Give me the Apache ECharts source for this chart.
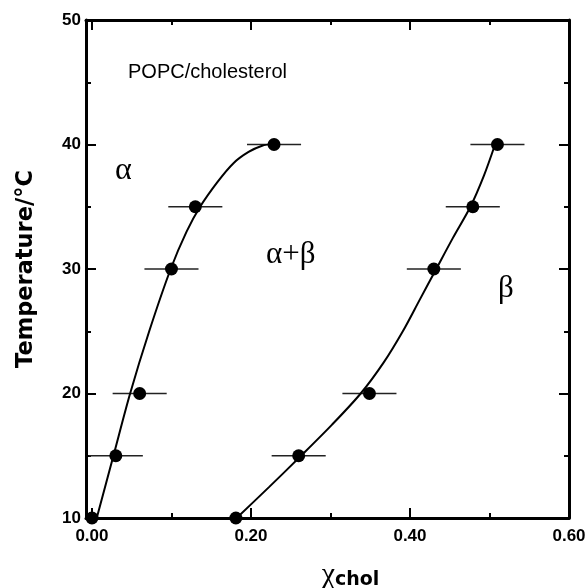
<!DOCTYPE html>
<html>
<head>
<meta charset="utf-8">
<script src="https://cdn.jsdelivr.net/npm/echarts@6/dist/echarts.min.js"></script>
<style>
  html, body { margin: 0; padding: 0; background: #fff; }
  #chart { width: 588px; height: 588px; }
</style>
</head>
<body>
<div id="chart"></div>
<script>
// phase boundary points (x = mole fraction cholesterol, y = temperature)
const alphaX = [0.000, 0.030, 0.060, 0.100, 0.130, 0.229];
const alphaT = [10, 15, 20, 30, 35, 40];
const betaX = [0.181, 0.260, 0.349, 0.430, 0.479, 0.510];
const betaT = [10, 15, 20, 30, 35, 40];
const errX = [0, 0.034, 0.034, 0.034, 0.034, 0.034];

// fitted boundary curves
const alphaCurve = [
  [0.006, 10], [0.027, 15], [0.048, 20], [0.072, 25], [0.099, 30],
  [0.119, 33], [0.136, 35], [0.158, 37], [0.178, 38.5], [0.197, 39.4],
  [0.214, 39.9], [0.228, 40.05]
];
const betaCurve = [
  [0.182, 10], [0.223, 12.5], [0.263, 15], [0.302, 17.5], [0.338, 20],
  [0.367, 22.5], [0.391, 25], [0.412, 27.5], [0.433, 30], [0.454, 32.5],
  [0.476, 35], [0.493, 37.5], [0.507, 40]
];

const xMajor = [0, 0.2, 0.4, 0.6];
const xMinor = [0.1, 0.3, 0.5];
const xLabels = ['0.00', '0.20', '0.40', '0.60'];

const points = alphaX.map((x, i) => [x, alphaT[i], errX[i]])
  .concat(betaX.map((x, i) => [x, betaT[i], errX[i]]));

const chart = echarts.init(document.getElementById('chart'));

const tickFont = { fontFamily: 'Liberation Sans, Arial, sans-serif', fontWeight: 'bold', fontSize: 17, color: '#000' };
const xCommon = { type: 'value', min: -0.0075, max: 0.6, splitLine: { show: false } };
const black = { color: '#000', width: 2 };

chart.setOption({
  animation: false,
  backgroundColor: '#fff',
  grid: { left: 86, right: 19, top: 20, bottom: 70, outerBoundsMode: 'none', containLabel: false },
  xAxis: [
    Object.assign({}, xCommon, {
      position: 'bottom',
      axisLine: { onZero: false, lineStyle: { color: '#000', width: 3 } },
      axisTick: { inside: true, length: 10, customValues: xMajor, lineStyle: black },
      axisLabel: Object.assign({ customValues: xMajor, margin: 10,
        formatter: v => xLabels[xMajor.indexOf(Math.round(v * 10) / 10)] || '' }, tickFont),
      name: '{a|χ}{b|chol}',
      nameLocation: 'middle',
      nameGap: 42,
      nameTextStyle: {
        padding: [0, 0, 0, 46],
        rich: {
          a: { fontFamily: 'Liberation Serif, serif', fontSize: 30, color: '#000' },
          b: { fontFamily: 'DejaVu Sans, sans-serif', fontWeight: 'bold', fontSize: 19, color: '#000', padding: [10, 0, 0, 0] }
        }
      }
    }),
    Object.assign({}, xCommon, {
      position: 'bottom',
      axisLine: { show: false, onZero: false },
      axisTick: { inside: true, length: 5, customValues: xMinor, lineStyle: black },
      axisLabel: { show: false }
    }),
    Object.assign({}, xCommon, {
      position: 'top',
      axisLine: { onZero: false, lineStyle: { color: '#000', width: 3 } },
      axisTick: { inside: true, length: 10, customValues: xMajor, lineStyle: black },
      axisLabel: { show: false }
    }),
    Object.assign({}, xCommon, {
      position: 'top',
      axisLine: { show: false, onZero: false },
      axisTick: { inside: true, length: 5, customValues: xMinor, lineStyle: black },
      axisLabel: { show: false }
    })
  ],
  yAxis: [
    {
      type: 'value', min: 10, max: 50, interval: 10, position: 'left',
      splitLine: { show: false },
      axisLine: { onZero: false, lineStyle: { color: '#000', width: 3 } },
      axisTick: { inside: true, length: 10, lineStyle: black },
      minorTick: { show: true, splitNumber: 2, length: 5, lineStyle: black },
      axisLabel: Object.assign({ margin: 5 }, tickFont),
      name: 'Temperature/°C',
      nameLocation: 'middle',
      nameGap: 48,
      nameTextStyle: { fontFamily: 'DejaVu Sans, sans-serif', fontWeight: 'bold', fontSize: 22.5, color: '#000' }
    },
    {
      type: 'value', min: 10, max: 50, interval: 10, position: 'right',
      splitLine: { show: false },
      axisLine: { onZero: false, lineStyle: { color: '#000', width: 3 } },
      axisTick: { inside: true, length: 10, lineStyle: black },
      minorTick: { show: true, splitNumber: 2, length: 5, lineStyle: black },
      axisLabel: { show: false }
    }
  ],
  graphic: [
    { type: 'text', left: 128, top: 62, style: { text: 'POPC/cholesterol', font: '20px "Liberation Sans", Arial, sans-serif', fill: '#000' } },
    { type: 'text', left: 115, top: 155, style: { text: 'α', font: '32px "Liberation Serif", serif', fill: '#000' } },
    { type: 'text', left: 266, top: 239, style: { text: 'α+β', font: '31px "Liberation Serif", serif', fill: '#000' } },
    { type: 'text', left: 498, top: 273, style: { text: 'β', font: '31px "Liberation Serif", serif', fill: '#000' } }
  ],
  series: [
    {
      name: 'alpha boundary', type: 'line', data: alphaCurve, smooth: 0.3,
      showSymbol: false, lineStyle: { color: '#000', width: 2 }, z: 3
    },
    {
      name: 'beta boundary', type: 'line', data: betaCurve, smooth: 0.3,
      showSymbol: false, lineStyle: { color: '#000', width: 2 }, z: 3
    },
    {
      name: 'error', type: 'custom', data: points, z: 2,
      renderItem: (params, api) => {
        const x = api.value(0), y = api.value(1), e = api.value(2);
        if (!e) return null;
        const p1 = api.coord([x - e, y]);
        const p2 = api.coord([x + e, y]);
        return {
          type: 'line',
          shape: { x1: p1[0], y1: p1[1], x2: p2[0], y2: p2[1] },
          style: { stroke: '#222', lineWidth: 1.3 }
        };
      }
    },
    {
      name: 'points', type: 'scatter', data: points.map(p => [p[0], p[1]]),
      symbol: 'circle', symbolSize: 13, itemStyle: { color: '#000', opacity: 1 }, z: 4
    }
  ]
});
</script>
</body>
</html>
